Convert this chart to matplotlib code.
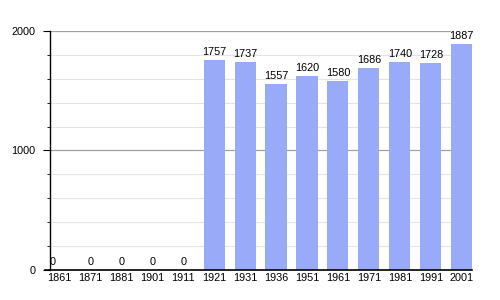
import matplotlib.pyplot as plt
from matplotlib.ticker import MultipleLocator

plt.rcParams['font.family'] = ['Liberation Sans', 'DejaVu Sans']

years = ['1861', '1871', '1881', '1901', '1911', '1921', '1931',
         '1936', '1951', '1961', '1971', '1981', '1991', '2001']
population = [0, 0, 0, 0, 0, 1757, 1737, 1557, 1620, 1580, 1686, 1740, 1728, 1887]

fig = plt.figure(figsize=(5, 3), dpi=100)
ax = fig.add_axes([0.1, 0.1, 0.844, 0.797])

x = range(len(years))
ax.set_xlim(-0.3, len(years) - 1 + 0.33)
ax.set_ylim(0, 2000)

# grid, stopping a bit before the last bar like the original
gx = 0.948
for v in range(200, 2000, 200):
    if v % 1000:
        ax.axhline(v, xmax=gx, color='#e4e4e4', lw=0.8, zorder=0)
for v in (1000, 2000):
    ax.axhline(v, xmax=gx, color='#a0a0a0', lw=0.9, zorder=0)

ax.bar(x, population, width=0.68, color='#99aaf9', zorder=2)

for i, v in enumerate(population):
    xi = -0.22 if i == 0 else i
    ax.text(xi, v + 25, str(v), ha='center', va='bottom', fontsize=7.8, zorder=3)

ax.set_xticks(list(x))
ax.set_xticklabels(years, fontsize=7.8)
ax.tick_params(axis='x', length=0, pad=2)

ax.yaxis.set_major_locator(MultipleLocator(1000))
ax.yaxis.set_minor_locator(MultipleLocator(200))
ax.tick_params(axis='y', which='major', length=5, width=0.8, labelsize=7.8, pad=5.5)
ax.tick_params(axis='y', which='minor', length=2.5, width=0.6)

for s in ('top', 'right'):
    ax.spines[s].set_visible(False)
ax.spines['left'].set_linewidth(1)
ax.spines['bottom'].set_linewidth(1.2)
ax.spines['bottom'].set_zorder(4)
# baseline pokes out a little to the left of the y axis
ax.plot([-0.012, 0], [0, 0], transform=ax.transAxes, color='black',
        lw=1.2, clip_on=False, zorder=4)

fig.savefig('out.png', dpi=100)
